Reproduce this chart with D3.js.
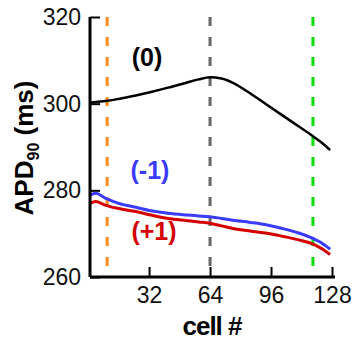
<!DOCTYPE html>
<html>
<head>
<meta charset="utf-8">
<script src="https://cdn.jsdelivr.net/npm/d3@7"></script>
<style>
  body { margin: 0; background: #fff; }
  svg { display: block; font-family: "Liberation Sans", Arial, sans-serif; }
</style>
</head>
<body>
<div id="chart"></div>
<script>
// cell index along the strand
const cells = [1, 4, 9, 16, 25, 33, 42, 52, 58, 64, 70, 76, 85, 94, 102, 111, 118, 122, 127];
// APD90 for the three cases
const apdZero = [300.2, 300.4, 300.6, 301.1, 301.9, 302.7, 303.7, 304.9, 305.6, 306.1, 305.8, 304.8, 302.4, 299.7, 297.3, 294.6, 292.5, 291.2, 289.3];
const apdMinus = [278.9, 279.3, 278.2, 277.0, 276.1, 275.3, 274.7, 274.3, 274.1, 273.9, 273.5, 273.1, 272.6, 272.0, 271.2, 270.1, 268.9, 268.0, 266.4];
const apdPlus = [277.0, 277.4, 276.6, 275.8, 275.1, 274.3, 273.5, 273.0, 272.7, 272.4, 271.8, 271.2, 270.6, 270.1, 269.4, 268.5, 267.6, 266.7, 265.2];
const seriesNames = ["(0)", "(-1)", "(+1)"];
const seriesColors = ["#000000", "#3b3bff", "#d40000"];
// vertical markers
const markerCells = [10, 64, 118];
const markerColors = ["#ff8c1a", "#666666", "#00dd00"];
const xMajor = [32, 64, 96, 128];
const yMajor = [260, 280, 300, 320];

const w = 356, h = 341;
const x = d3.scaleLinear().domain([1, 128]).range([90, 332]);
const y = d3.scaleLinear().domain([260, 320]).range([277, 17]);

const svg = d3.select("#chart").append("svg")
    .attr("width", w)
    .attr("height", h);

// dashed markers
svg.selectAll("line.marker")
   .data(markerCells)
   .enter()
   .append("line")
   .attr("class", "marker")
   .attr("x1", d => x(d))
   .attr("x2", d => x(d))
   .attr("y1", y(320))
   .attr("y2", y(260))
   .attr("stroke", (d, i) => markerColors[i])
   .attr("stroke-width", 3)
   .attr("stroke-dasharray", "9,11");

// curves
const line = d3.line()
    .x(d => x(d[0]))
    .y(d => y(d[1]))
    .curve(d3.curveMonotoneX);
const allSeries = [apdZero, apdMinus, apdPlus];
svg.selectAll("path.apd")
   .data(allSeries)
   .enter()
   .append("path")
   .attr("class", "apd")
   .attr("d", vals => line(cells.map((c, i) => [c, vals[i]])))
   .attr("fill", "none")
   .attr("stroke", (d, i) => seriesColors[i])
   .attr("stroke-width", (d, i) => i === 0 ? 2.5 : 3);

// axes, ticks pointing inwards
const yAxis = svg.append("g").attr("transform", "translate(90,0)");
yAxis.call(d3.axisLeft(y).tickValues(d3.range(260, 321, 5)).tickSize(-5).tickFormat(""));
yAxis.call(d3.axisLeft(y).tickValues(yMajor).tickSizeInner(-10).tickSizeOuter(0).tickPadding(9));
const xAxis = svg.append("g").attr("transform", "translate(0,277)");
xAxis.call(d3.axisBottom(x).tickValues(d3.range(8, 129, 8)).tickSize(-5).tickFormat(""));
xAxis.call(d3.axisBottom(x).tickValues(xMajor).tickSizeInner(-10).tickSizeOuter(0).tickPadding(8));

svg.selectAll(".domain").attr("stroke", "#000").attr("stroke-width", 3);
svg.selectAll(".tick line").attr("stroke", "#000").attr("stroke-width", 2);
svg.selectAll(".tick text")
   .attr("font-family", "Liberation Sans, Arial, sans-serif")
   .attr("font-size", "23px")
   .attr("fill", "#111");
xAxis.selectAll(".tick text").attr("dy", "0.78em");
// x axis line runs a bit past 128
xAxis.select(".domain").attr("d", `M${x(1)},0H${x(128) + 3}`);
yAxis.selectAll(".domain").attr("d", `M0,${y(320)}V${y(260)}`);

// series labels
const labelPos = [[147, 66], [150, 179], [154, 240]];
svg.selectAll("text.lab")
   .data(seriesNames)
   .enter()
   .append("text")
   .attr("class", "lab")
   .text(d => d)
   .attr("x", (d, i) => labelPos[i][0])
   .attr("y", (d, i) => labelPos[i][1])
   .attr("text-anchor", "middle")
   .attr("font-size", "25px")
   .attr("font-weight", "bold")
   .attr("fill", (d, i) => seriesColors[i]);

// axis titles
svg.append("text")
   .text("cell #")
   .attr("x", 212)
   .attr("y", 335)
   .attr("text-anchor", "middle")
   .attr("font-size", "26px")
   .attr("font-weight", "bold")
   .attr("letter-spacing", "-1px");

const yt = svg.append("text")
   .attr("transform", "translate(33,148) rotate(-90)")
   .attr("text-anchor", "middle")
   .attr("font-size", "26px")
   .attr("font-weight", "bold");
yt.append("tspan").text("APD");
yt.append("tspan").text("90").attr("font-size", "16px").attr("dy", 6);
yt.append("tspan").text(" (ms)").attr("dy", -6);
</script>
</body>
</html>
